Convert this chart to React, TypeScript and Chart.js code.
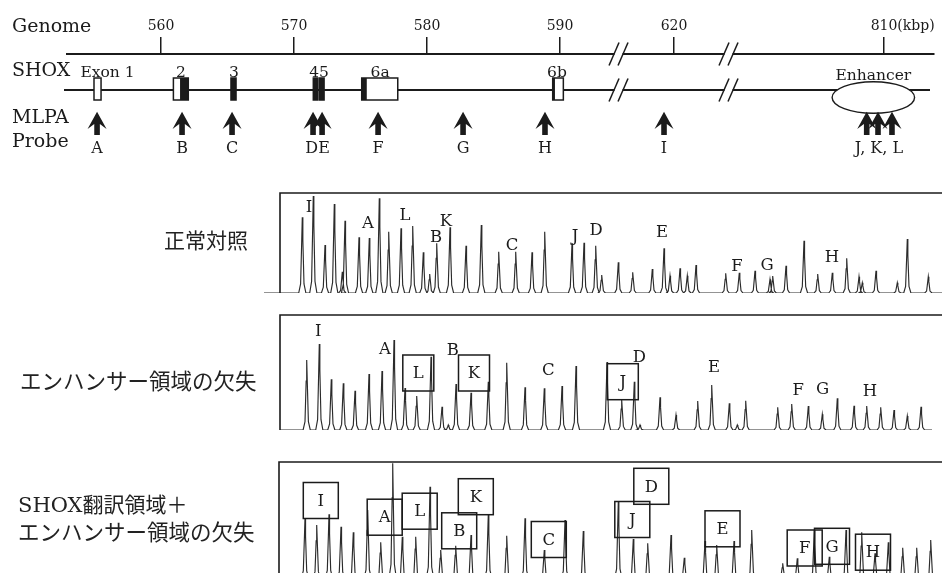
import React, { useEffect, useRef } from "react";
import { Chart, registerables } from "chart.js";

Chart.register(...registerables);

// ---------------- Genome map data ----------------
const GENOME_TICKS = [560, 570, 580, 590, 620, 810];
const GENOME_AXIS_MIN = 552.93;
const GENOME_AXIS_MAX = 618.12;
const SEGMENT_FROM = [0, 600, 700]; // kbp where each displayed segment starts
const SEGMENT_SHIFT = [0, 21.43, 195.64]; // kbp hidden by the axis breaks
const BREAKS_KBP = [594.4, 624.1];

const EXON_START = [554.96, 560.93, 565.26, 571.45, 571.88, 575.09, 589.45];
const EXON_END = [555.49, 562.05, 565.64, 571.75, 572.26, 577.8, 590.25];
const CODING_START = [null, 561.43, 565.26, 571.45, 571.88, 575.09, 589.45];
const CODING_END = [null, 562.05, 565.64, 571.75, 572.26, 575.47, 589.62];
const EXON_LABELS = ["Exon 1", "2", "3", "45", "6a", "6b"];
const EXON_LABEL_KBP = [555.98, 561.5, 565.49, 571.88, 576.47, 589.77];

const ENHANCER_START = 806.1;
const ENHANCER_END = 812.3;
const ENHANCER_LABEL = "Enhancer";

const PROBE_NAMES = ["A", "B", "C", "D", "E", "F", "G", "H", "I", "J", "K", "L"];
const PROBE_KBP = [555.19, 561.58, 565.34, 571.43, 572.11, 576.32, 582.71, 588.87, 619.25, 808.7, 809.55, 810.6];
const PROBE_LABELS = ["A", "B", "C", "DE", "F", "G", "H", "I", "J, K, L"];

const ROW_TITLES = ["Genome", "SHOX", "MLPA", "Probe"];

// ---------------- Electropherogram data ----------------
const P1_POS = [22.3, 33.3, 45, 54.3, 62.3, 65, 79, 89.3, 99.3, 108.7, 121, 132.7, 143.3, 149.7, 156.7, 170, 186, 201.3, 218.7, 235.7, 252, 264.7, 292, 304, 315.7, 321.7, 338.3, 352.7, 372.3, 384, 390, 400, 407.3, 416, 445.7, 459.3, 475, 490, 492.7, 506, 524, 537.7, 552.3, 566.7, 579, 582.3, 596, 617.3, 627.3, 648.3];
const P1_HEIGHT = [75.7, 97, 48, 89, 21.3, 72.3, 55.7, 55, 94.7, 61.3, 64.7, 67, 40.7, 19, 49.7, 65.7, 47.3, 68, 41.3, 41.3, 40.7, 61.3, 49.7, 50.3, 47.3, 18, 30.7, 20.7, 24, 44.7, 17.3, 24.7, 17.3, 28, 19.7, 20.3, 22.3, 13.7, 17, 27.3, 52.3, 19, 20.3, 34.7, 16.3, 10.3, 22.3, 10.3, 54, 16.3];
const P1_TRACE = [-16, 662];
const P1_LABELS = ["I", "A", "L", "K", "B", "C", "J", "D", "E", "F", "G", "H"];
const P1_LABEL_POS = [29, 88, 125, 166, 156, 232, 295, 316, 382, 457, 487, 552];
const P1_LABEL_HEIGHT = [86, 70, 78, 72, 56.5, 48, 57, 63, 61, 27, 28, 36.5];
const P1_BOXED = [false, false, false, false, false, false, false, false, false, false, false, false];

const P2_POS = [26.7, 39.3, 51.3, 63.3, 75, 89, 102, 114, 125, 136.7, 151, 162, 168.3, 176, 191, 208.3, 226.7, 245, 264.3, 282, 296, 327, 341.7, 354.3, 360, 380, 396, 417.7, 431.7, 449.3, 457.3, 465.7, 497.7, 511.7, 528.3, 542.3, 557.3, 574, 586.7, 600.7, 614, 627.3, 641];
const P2_HEIGHT = [70, 86, 50.7, 46.7, 39.3, 56, 59, 90, 42, 34, 73.3, 23.3, 5, 46, 37.3, 48.3, 67.3, 42.7, 41.7, 44, 64, 68, 30, 48.3, 5, 32.7, 15, 29, 45, 26.7, 5, 29.3, 22.7, 26, 24, 15.7, 31.7, 24.3, 24, 22.7, 20, 14, 23.3];
const P2_TRACE = [0, 652];
const P2_LABELS = ["I", "A", "L", "B", "K", "C", "J", "D", "E", "F", "G", "H"];
const P2_LABEL_POS = [38.3, 105, 138.3, 172.7, 194, 268.3, 342.8, 359.3, 434, 518.3, 542.7, 590];
const P2_LABEL_HEIGHT = [99.3, 81, 57, 80.7, 57, 60, 48.3, 73.3, 63.3, 40, 41.7, 39];
const P2_BOXED = [false, false, true, false, true, false, true, false, false, false, false, false];

const P3_POS = [26, 37.7, 50, 62, 74.3, 88.7, 101.7, 113.7, 123.3, 136.7, 151, 161.7, 176.7, 192, 209.3, 227.7, 246, 265.3, 286, 304.3, 339.3, 354.3, 368.7, 392, 405.3, 426, 437.7, 455, 472.7, 503.7, 518.3, 535.3, 550.3, 567, 582.7, 596, 609.3, 623.7, 637.7, 651.7];
const P3_HEIGHT = [59.7, 53, 63.7, 51.3, 45.7, 68, 35.7, 114.7, 41.3, 41.3, 91.3, 28, 32.3, 43, 63.7, 42.3, 59.7, 28, 58, 47, 76.3, 39, 34.7, 43, 20.3, 37, 33, 37, 48, 14.7, 19.7, 48, 21.3, 48, 45.7, 24.7, 35.7, 30.3, 30.3, 38];
const P3_TRACE = [0, 663];
const P3_LABELS = ["I", "A", "L", "B", "K", "C", "J", "D", "E", "F", "G", "H"];
const P3_LABEL_POS = [41.8, 105.7, 140.7, 180.2, 196.8, 269.8, 353.3, 372.3, 443.5, 525.7, 553, 594];
const P3_LABEL_HEIGHT = [77.5, 60.8, 66.8, 47.2, 81.3, 38.5, 58.5, 91.7, 49.2, 30, 31.7, 25.8];
const P3_BOXED = [true, true, true, true, true, true, true, true, true, true, true, true];

const SIDE_LABEL_1 = "正常対照";
const SIDE_LABEL_2 = "エンハンサー領域の欠失";
const SIDE_LABEL_3A = "SHOX";
const SIDE_LABEL_3B = "翻訳領域＋";
const SIDE_LABEL_3C = "エンハンサー領域の欠失";

// ---------------- helpers ----------------
const INK = "#1b1b1b";
const SERIF = '"DejaVu Serif", "Liberation Serif", serif';

function toAxis(kbp: number): number {
  let i = 0;
  for (let k = 0; k < SEGMENT_FROM.length; k++) if (kbp >= SEGMENT_FROM[k]) i = k;
  return kbp - SEGMENT_SHIFT[i];
}

// peak outline: fraction of height vs half-width (trace units)
const PEAK_FRAC = [0, 0.12, 0.7, 1];
const PEAK_HALF = [3.6, 1.7, 0.55, 0];

function buildTrace(pos: number[], h: number[], range: number[]) {
  const order = pos.map((_, i) => i).sort((a, b) => pos[a] - pos[b]);
  const pts: { x: number; y: number }[] = [{ x: range[0], y: 0 }];
  for (const i of order) {
    for (let k = 0; k < PEAK_FRAC.length; k++) pts.push({ x: pos[i] - PEAK_HALF[k], y: h[i] * PEAK_FRAC[k] });
    for (let k = PEAK_FRAC.length - 2; k >= 0; k--) pts.push({ x: pos[i] + PEAK_HALF[k], y: h[i] * PEAK_FRAC[k] });
  }
  pts.push({ x: range[1], y: 0 });
  return pts;
}

// ---------------- genome map chart ----------------
const MAP_Y = { shox: 90, exonTop: 78, exonBottom: 100, exonLabel: 76.5, enhLabel: 79.5, enhCy: 97.5, enhRy: 15.8, tip: 111.7, head: 129, neck: 124, tail: 135, probeLabel: 152.5 };
const TITLE_BASE = [31.7, 76, 123.3, 146.7];
const TICK_LEN = 17;
const TICK_PAD = 2;
const TICK_FONT = 14;

function genomeConfig(): any {
  const plugin = {
    id: "genomeMap",
    afterDraw(chart: any) {
      const { ctx, chartArea, scales } = chart;
      const xs = scales.x;
      const X = (kbp: number) => xs.getPixelForValue(toAxis(kbp));
      ctx.save();
      ctx.fillStyle = INK;
      ctx.strokeStyle = INK;
      // row titles
      ctx.font = `19px ${SERIF}`;
      ctx.textAlign = "left";
      ctx.textBaseline = "alphabetic";
      ROW_TITLES.forEach((t, i) => ctx.fillText(t, 12, TITLE_BASE[i]));
      // (kbp) unit after last tick
      ctx.font = `${TICK_FONT}px ${SERIF}`;
      ctx.textBaseline = "middle";
      const last = GENOME_TICKS[GENOME_TICKS.length - 1];
      const lw = ctx.measureText(String(last)).width;
      ctx.fillText("(kbp)", X(last) + lw / 2, chartArea.top - TICK_LEN - TICK_PAD - (TICK_FONT * 1.2) / 2);
      // SHOX line
      ctx.lineWidth = 1.8;
      ctx.beginPath();
      ctx.moveTo(chartArea.left - 3, MAP_Y.shox);
      ctx.lineTo(chartArea.right - 4, MAP_Y.shox);
      ctx.stroke();
      // breaks
      ctx.lineWidth = 1.5;
      for (const b of BREAKS_KBP) {
        const bx = X(b);
        for (const y of [chartArea.top, MAP_Y.shox]) {
          ctx.fillStyle = "#fff";
          ctx.fillRect(bx - 4, y - 2, 8, 4);
          for (const k of [-1, 1]) {
            ctx.beginPath();
            ctx.moveTo(bx + k * 4.5 - 5, y + 11.5);
            ctx.lineTo(bx + k * 4.5 + 5, y - 11.5);
            ctx.stroke();
          }
        }
      }
      // exons
      ctx.lineWidth = 1.5;
      EXON_START.forEach((s, i) => {
        const x0 = X(s);
        const x1 = X(EXON_END[i]);
        ctx.fillStyle = "#fff";
        ctx.fillRect(x0, MAP_Y.exonTop, x1 - x0, MAP_Y.exonBottom - MAP_Y.exonTop);
        const cs = CODING_START[i];
        const ce = CODING_END[i];
        if (cs !== null && ce !== null) {
          ctx.fillStyle = INK;
          ctx.fillRect(X(cs), MAP_Y.exonTop, X(ce) - X(cs), MAP_Y.exonBottom - MAP_Y.exonTop);
        }
        ctx.strokeRect(x0, MAP_Y.exonTop, x1 - x0, MAP_Y.exonBottom - MAP_Y.exonTop);
      });
      ctx.fillStyle = INK;
      ctx.font = `15.5px ${SERIF}`;
      ctx.textAlign = "center";
      ctx.textBaseline = "alphabetic";
      EXON_LABELS.forEach((t, i) => ctx.fillText(t, X(EXON_LABEL_KBP[i]), MAP_Y.exonLabel));
      // enhancer
      const ex0 = X(ENHANCER_START);
      const ex1 = X(ENHANCER_END);
      ctx.beginPath();
      ctx.ellipse((ex0 + ex1) / 2, MAP_Y.enhCy, (ex1 - ex0) / 2, MAP_Y.enhRy, 0, 0, Math.PI * 2);
      ctx.fillStyle = "#fff";
      ctx.fill();
      ctx.lineWidth = 1.4;
      ctx.stroke();
      ctx.fillStyle = INK;
      ctx.fillText(ENHANCER_LABEL, (ex0 + ex1) / 2, MAP_Y.enhLabel);
      // probe arrows
      PROBE_KBP.forEach((p) => {
        const cx = X(p);
        ctx.beginPath();
        ctx.moveTo(cx, MAP_Y.tip);
        ctx.lineTo(cx + 9.5, MAP_Y.head);
        ctx.lineTo(cx + 2.8, MAP_Y.neck);
        ctx.lineTo(cx + 2.8, MAP_Y.tail);
        ctx.lineTo(cx - 2.8, MAP_Y.tail);
        ctx.lineTo(cx - 2.8, MAP_Y.neck);
        ctx.lineTo(cx - 9.5, MAP_Y.head);
        ctx.closePath();
        ctx.fill();
      });
      // probe labels
      ctx.font = `16px ${SERIF}`;
      PROBE_LABELS.forEach((lab) => {
        const members = PROBE_NAMES.map((n, i) => (lab.includes(n) ? PROBE_KBP[i] : null)).filter((v) => v !== null) as number[];
        const mean = members.reduce((a, b) => a + b, 0) / members.length;
        ctx.fillText(lab, X(mean), MAP_Y.probeLabel);
      });
      ctx.restore();
    },
  };
  return {
    type: "scatter",
    data: { datasets: [] },
    options: {
      responsive: false,
      animation: false,
      events: [],
      layout: { padding: { left: 67, right: 8, top: 0, bottom: 0 } },
      plugins: { legend: { display: false }, tooltip: { enabled: false } },
      scales: {
        x: {
          type: "linear",
          position: "top",
          min: GENOME_AXIS_MIN,
          max: GENOME_AXIS_MAX,
          afterFit: (s: any) => {
            s.height = 54;
          },
          afterBuildTicks: (s: any) => {
            s.ticks = GENOME_TICKS.map((g) => ({ value: toAxis(g) }));
          },
          grid: { drawOnChartArea: false, drawTicks: true, tickLength: TICK_LEN, color: INK, lineWidth: 1.5 },
          border: { display: true, color: INK, width: 2 },
          ticks: {
            autoSkip: false,
            maxRotation: 0,
            minRotation: 0,
            padding: TICK_PAD,
            color: INK,
            font: { family: SERIF, size: TICK_FONT },
            callback: (_v: any, i: number) => String(GENOME_TICKS[i]),
          },
        },
        y: { display: false, min: 0, max: 1 },
      },
    },
    plugins: [plugin],
  };
}

// ---------------- panel charts ----------------
type PanelDef = {
  top: number;
  height: number;
  padTop: number;
  padBottom: number;
  frameX: number;
  yMin: number;
  yMax: number;
  pos: number[];
  h: number[];
  trace: number[];
  labels: string[];
  labelPos: number[];
  labelH: number[];
  boxed: boolean[];
  boxW: number;
  boxH: number;
};

const PANELS: PanelDef[] = [
  { top: 183, height: 120, padTop: 10, padBottom: 10, frameX: 280, yMin: 0, yMax: 100, pos: P1_POS, h: P1_HEIGHT, trace: P1_TRACE, labels: P1_LABELS, labelPos: P1_LABEL_POS, labelH: P1_LABEL_HEIGHT, boxed: P1_BOXED, boxW: 31, boxH: 36 },
  { top: 305, height: 135, padTop: 10, padBottom: 10, frameX: 280, yMin: 0, yMax: 115, pos: P2_POS, h: P2_HEIGHT, trace: P2_TRACE, labels: P2_LABELS, labelPos: P2_LABEL_POS, labelH: P2_LABEL_HEIGHT, boxed: P2_BOXED, boxW: 31, boxH: 36 },
  { top: 452, height: 121, padTop: 10, padBottom: 0, frameX: 279, yMin: 5, yMax: 116, pos: P3_POS, h: P3_HEIGHT, trace: P3_TRACE, labels: P3_LABELS, labelPos: P3_LABEL_POS, labelH: P3_LABEL_HEIGHT, boxed: P3_BOXED, boxW: 35, boxH: 36 },
];

function panelConfig(p: PanelDef): any {
  const plugin = {
    id: "panelDecor",
    afterDatasetsDraw(chart: any) {
      const { ctx, chartArea, scales } = chart;
      const xs = scales.x;
      const ys = scales.y;
      ctx.save();
      const fx = xs.getPixelForValue(0);
      ctx.strokeStyle = INK;
      ctx.lineWidth = 1.6;
      ctx.beginPath();
      ctx.moveTo(fx, chartArea.bottom);
      ctx.lineTo(fx, chartArea.top);
      ctx.lineTo(chartArea.right, chartArea.top);
      ctx.stroke();
      ctx.font = `16.5px ${SERIF}`;
      ctx.fillStyle = INK;
      ctx.textAlign = "center";
      ctx.textBaseline = "middle";
      ctx.lineWidth = 1.5;
      p.labels.forEach((t, i) => {
        const lx = xs.getPixelForValue(p.labelPos[i]);
        const ly = ys.getPixelForValue(p.labelH[i]);
        ctx.fillText(t, lx, ly + 1);
        if (p.boxed[i]) ctx.strokeRect(lx - p.boxW / 2, ly - p.boxH / 2, p.boxW, p.boxH);
      });
      ctx.restore();
    },
  };
  return {
    type: "line",
    data: {
      datasets: [
        {
          data: buildTrace(p.pos, p.h, p.trace),
          borderColor: "#2b2b2b",
          borderWidth: 1.15,
          pointRadius: 0,
          tension: 0,
          fill: false,
        },
      ],
    },
    options: {
      responsive: false,
      animation: false,
      events: [],
      layout: { padding: { left: 0, right: 0, top: p.padTop, bottom: p.padBottom } },
      plugins: { legend: { display: false }, tooltip: { enabled: false } },
      scales: {
        x: { type: "linear", display: false, min: -p.frameX, max: 942 - p.frameX },
        y: { type: "linear", display: false, min: p.yMin, max: p.yMax },
      },
    },
    plugins: [plugin],
  };
}

function ChartCanvas({ make, top, height }: { make: () => any; top: number; height: number }) {
  const ref = useRef<HTMLCanvasElement>(null);
  useEffect(() => {
    const chart = new Chart(ref.current as HTMLCanvasElement, make());
    return () => chart.destroy();
  }, []);
  return (
    <canvas
      ref={ref}
      width={942}
      height={height}
      style={{ position: "absolute", left: 0, top, width: 942, height }}
    />
  );
}

const sideStyle: React.CSSProperties = {
  position: "absolute",
  fontFamily: '"Noto Sans CJK JP", sans-serif',
  fontSize: 21,
  lineHeight: "25px",
  color: "#222",
  whiteSpace: "nowrap",
};

export default function App() {
  return (
    <div style={{ position: "absolute", left: 0, top: 0, width: 942, height: 573, background: "#fff", overflow: "hidden" }}>
      <ChartCanvas make={genomeConfig} top={0} height={175} />
      {PANELS.map((p, i) => (
        <ChartCanvas key={i} make={() => panelConfig(p)} top={p.top} height={p.height} />
      ))}
      <div style={{ ...sideStyle, left: 164, top: 227 }}>{SIDE_LABEL_1}</div>
      <div style={{ ...sideStyle, left: 20, top: 367, fontSize: 21.5 }}>{SIDE_LABEL_2}</div>
      <div style={{ ...sideStyle, left: 18, top: 491 }}>
        <div>
          <span style={{ fontFamily: SERIF }}>{SIDE_LABEL_3A}</span>
          {SIDE_LABEL_3B}
        </div>
        <div style={{ fontSize: 21.5 }}>{SIDE_LABEL_3C}</div>
      </div>
    </div>
  );
}
